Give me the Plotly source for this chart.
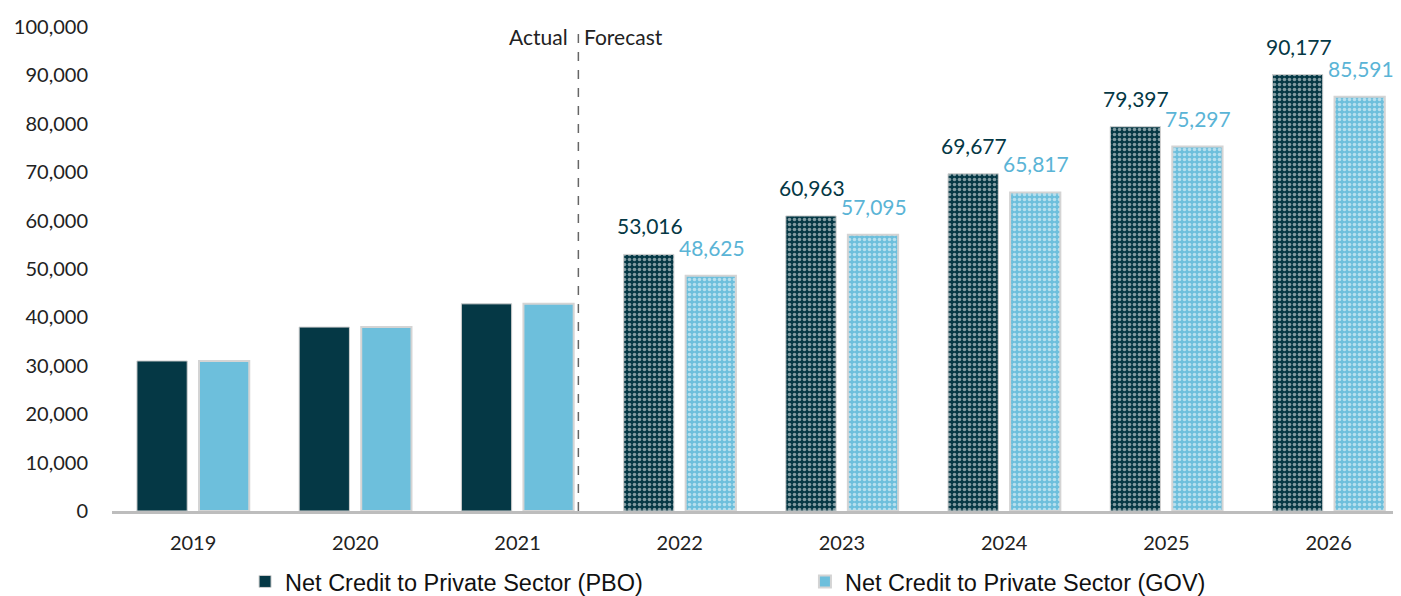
import plotly.graph_objects as go

years = ["2019", "2020", "2021", "2022", "2023", "2024", "2025", "2026"]
pbo = [31000, 38000, 42800, 53016, 60963, 69677, 79397, 90177]
gov = [31000, 38000, 42800, 48625, 57095, 65817, 75297, 85591]
n_actual = 3

DARK = "#053845"
LIGHT = "#6dbfdc"
LIGHT_TXT = "#5ab4d6"
TICKFONT = "Lato"
NAME_PBO = "Net Credit to Private Sector (PBO)"
NAME_GOV = "Net Credit to Private Sector (GOV)"

def fmt(v):
    return f"{v:,}"

fig = go.Figure()

# Actual (solid)
fig.add_trace(go.Bar(
    x=years[:n_actual], y=pbo[:n_actual], name=NAME_PBO,
    offsetgroup="pbo", marker=dict(color=DARK, line=dict(color="#cfcfcf", width=1)),
    legend="legend",
))
fig.add_trace(go.Bar(
    x=years[:n_actual], y=gov[:n_actual], name=NAME_GOV,
    offsetgroup="gov", marker=dict(color=LIGHT, line=dict(color="#d4d4d4", width=2)),
    legend="legend2",
))
# Forecast (patterned)
fig.add_trace(go.Bar(
    x=years[n_actual:], y=pbo[n_actual:], name=NAME_PBO,
    offsetgroup="pbo", showlegend=False,
    marker=dict(color=DARK, line=dict(color="#cfcfcf", width=1),
                pattern=dict(shape=".", fgcolor="white", bgcolor=DARK, size=5, solidity=0.4)),
))
fig.add_trace(go.Bar(
    x=years[n_actual:], y=gov[n_actual:], name=NAME_GOV,
    offsetgroup="gov", showlegend=False,
    marker=dict(color=LIGHT, line=dict(color="#d4d4d4", width=2),
                pattern=dict(shape=".", fgcolor="white", bgcolor=LIGHT, size=5, solidity=0.4)),
))

# value labels for forecast bars (x given as category index)
for i, v in enumerate(pbo):
    if i >= n_actual:
        fig.add_annotation(x=i, y=v, xref="x", yref="y", text=fmt(v), showarrow=False,
                           xshift=-30, yshift=14, yanchor="bottom",
                           font=dict(size=21, family=TICKFONT, color=DARK))
for i, v in enumerate(gov):
    if i >= n_actual:
        fig.add_annotation(x=i, y=v, xref="x", yref="y", text=fmt(v), showarrow=False,
                           xshift=32, yshift=14, yanchor="bottom",
                           font=dict(size=21, family=TICKFONT, color=LIGHT_TXT))

fig.add_shape(type="line", xref="x", yref="paper", x0=2.375, x1=2.375, y0=0, y1=1.0,
              line=dict(color="#666666", width=1.5, dash="dash"))
fig.add_annotation(x=2.375, y=0.98, xref="x", yref="paper", text="Actual", showarrow=False,
                   xanchor="right", yanchor="middle", xshift=-8, font=dict(size=21, family=TICKFONT, color="#222"))
fig.add_annotation(x=2.375, y=0.98, xref="x", yref="paper", text="Forecast", showarrow=False,
                   xanchor="left", yanchor="middle", xshift=4, font=dict(size=21, family=TICKFONT, color="#222"))

legend_font = dict(family="Liberation Sans", size=23.5, color="#111")
fig.update_layout(
    width=1393, height=588,
    margin=dict(l=104, r=1, t=19, b=85, autoexpand=False),
    plot_bgcolor="white", paper_bgcolor="white",
    barmode="group", bargap=0.235, bargroupgap=0.19,
    legend=dict(orientation="h", x=0.1033, xanchor="left", y=-0.146, yanchor="middle",
                font=legend_font, itemclick=False, bgcolor="rgba(0,0,0,0)",
                tracegroupgap=0),
    legend2=dict(orientation="h", x=0.538, xanchor="left", y=-0.146, yanchor="middle",
                 font=legend_font, itemclick=False, bgcolor="rgba(0,0,0,0)",
                 tracegroupgap=0),
    xaxis=dict(type="category", range=[-0.5, 7.44], showgrid=False, showline=True,
               linecolor="#bdbdbd", linewidth=2.5, ticks="", ticklabelstandoff=12,
               tickfont=dict(family=TICKFONT, size=20, color="#222"), automargin=False),
    yaxis=dict(range=[0, 100000], dtick=10000, tickformat=",d", showgrid=False, zeroline=False,
               showline=False, ticks="", ticklabelstandoff=23, automargin=False,
               tickfont=dict(family=TICKFONT, size=20, color="#222")),
)

fig.write_html("out.html")
